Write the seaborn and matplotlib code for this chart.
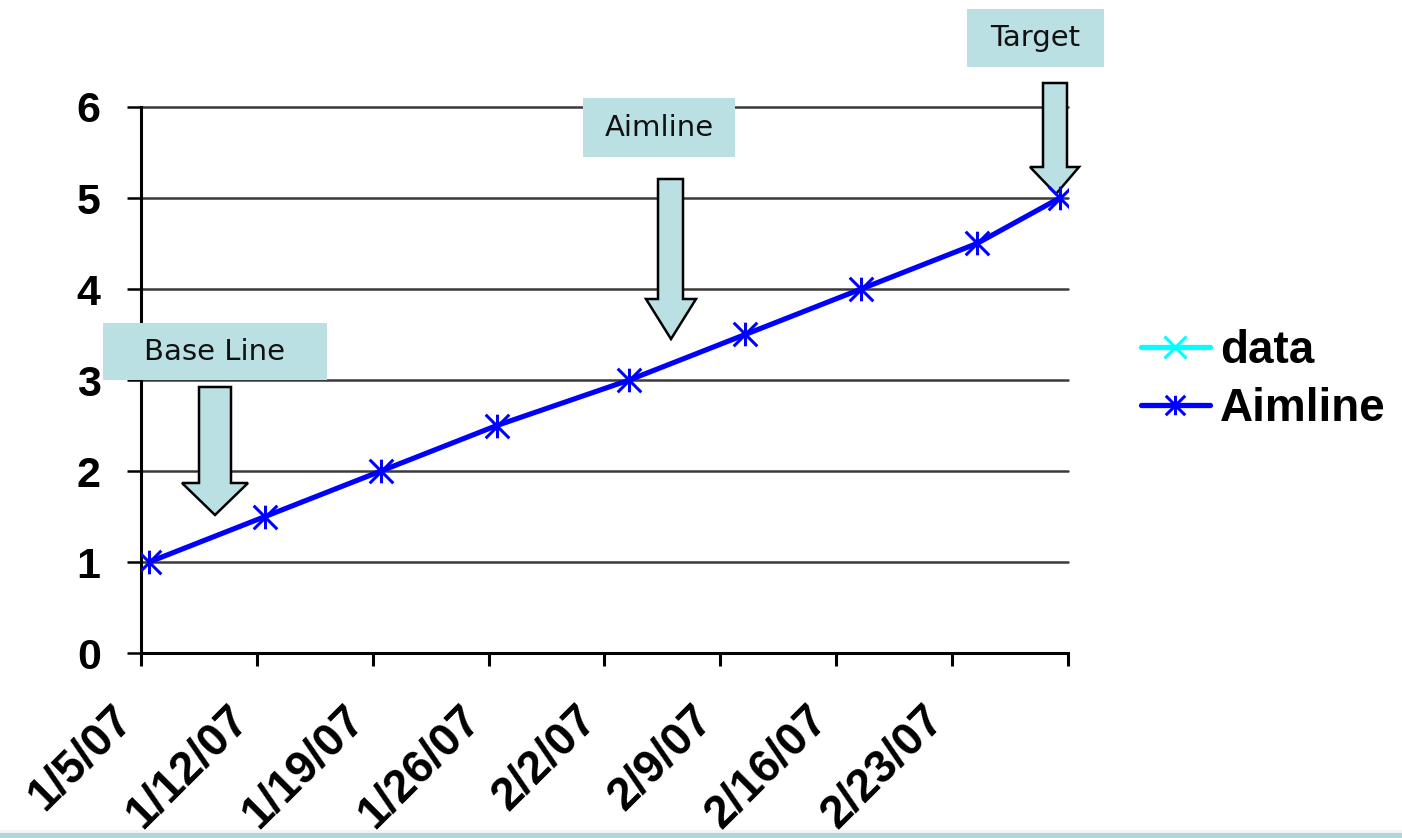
import numpy as np
import pandas as pd
import matplotlib
matplotlib.use("Agg")
import matplotlib.pyplot as plt
from matplotlib.path import Path
from matplotlib.patches import Rectangle, Polygon
from matplotlib.lines import Line2D
from matplotlib.transforms import ScaledTranslation
import seaborn as sns

# ---------------- data ----------------
aimline_dates = ["2007-01-05", "2007-01-12", "2007-01-19", "2007-01-26", "2007-02-03",
                 "2007-02-10", "2007-02-17", "2007-02-24", "2007-03-01"]
aimline_values = [1, 1.5, 2, 2.5, 3, 3.5, 4, 4.5, 5]
data_dates = []
data_values = []
tick_dates = ["2007-01-05", "2007-01-12", "2007-01-19", "2007-01-26", "2007-02-02",
              "2007-02-09", "2007-02-16", "2007-02-23", "2007-03-02"]
tick_labels = ["1/5/07", "1/12/07", "1/19/07", "1/26/07", "2/2/07",
               "2/9/07", "2/16/07", "2/23/07", ""]
y_ticks = [0, 1, 2, 3, 4, 5, 6]
series_names = ["data", "Aimline"]
callout_texts = ["Base Line", "Aimline", "Target"]

# ---------------- style ----------------
sns.set_theme(style="white")
plt.rcParams['font.family'] = ['Liberation Sans', 'DejaVu Sans']
plt.rcParams['text.color'] = 'black'
plt.rcParams['xtick.color'] = 'black'
plt.rcParams['ytick.color'] = 'black'

W, H = 1402, 838
fig = plt.figure(figsize=(W / 100, H / 100), dpi=100)
fig.patch.set_facecolor("white")
ax = fig.add_axes([141 / W, 1 - 653 / H, (1068 - 141) / W, (653 - 107) / H])
ax.set_facecolor("white")

star = Path([(0, -1), (0, 1), (-1, -1), (1, 1), (-1, 1), (1, -1)],
            [Path.MOVETO, Path.LINETO, Path.MOVETO, Path.LINETO, Path.MOVETO, Path.LINETO])

df = pd.DataFrame({"date": pd.to_datetime(aimline_dates) + pd.Timedelta(hours=12),
                   "value": aimline_values})
sns.lineplot(data=df, x="date", y="value", ax=ax, color="#0000FF", linewidth=3.7,
             marker=star, markersize=17, markeredgewidth=2.2, markeredgecolor="#0000FF",
             legend=False, zorder=4)
if data_dates:
    ax.plot(pd.to_datetime(data_dates), data_values, color="#00FFFF", marker="x")

ax.set_xlim(pd.Timestamp("2007-01-05"), pd.Timestamp("2007-03-02"))
ax.set_ylim(0, 6)
ax.set_xlabel("")
ax.set_ylabel("")

ax.set_yticks(y_ticks)
ax.set_yticklabels([str(v) for v in y_ticks], fontsize=31, fontweight="bold")
ax.set_xticks(pd.to_datetime(tick_dates))
ax.set_xticklabels(tick_labels, rotation=45, ha="right", va="center",
                   rotation_mode="anchor", fontsize=33, fontweight="bold")

ax.yaxis.grid(True, color="#3a3a3a", linewidth=1.8)
for gl in ax.get_ygridlines():
    gl.set_clip_on(False)
ax.xaxis.grid(False)
for s in ["top", "right"]:
    ax.spines[s].set_visible(False)
for s in ["left", "bottom"]:
    ax.spines[s].set_color("black")
    ax.spines[s].set_linewidth(2.2)
ax.tick_params(axis="y", left=True, direction="out", length=10, width=1.8,
               color="black", pad=19, labelcolor="black")
ax.tick_params(axis="x", bottom=True, direction="out", length=9, width=2.2,
               color="black", pad=34, labelcolor="black")
for lbl in ax.get_xticklabels():
    lbl.set_transform(lbl.get_transform() + ScaledTranslation(-15 / 100, 0, fig.dpi_scale_trans))

# ---------------- legend ----------------
handles = [Line2D([], [], color="#00FFFF", lw=3.8, marker="x", ms=16, mew=2.2),
           Line2D([], [], color="#0000FF", lw=3.8, marker=star, ms=14, mew=2.2)]
fig.legend(handles, series_names, loc="center left", bbox_to_anchor=(1141 / W, 1 - 380 / H),
           frameon=False, prop=dict(family="Liberation Sans", weight="bold", size=33),
           handlelength=1.5, handletextpad=0.22, labelspacing=0.3,
           borderpad=0, borderaxespad=0, labelcolor="black")

# ---------------- callouts ----------------
def fx(x):
    return x / W


def fy(y):
    return 1 - y / H


box_color = "#BBE0E3"
boxes = [(103, 323, 327, 380), (583, 98, 735, 157), (967, 9, 1104, 67)]
arrows = [(199, 231, 387, 483, 182, 248, 215, 515),
          (658, 683, 179, 299, 646, 696, 671, 339),
          (1043, 1067, 83, 167, 1030, 1079, 1056, 194)]
for text, (x0, y0, x1, y1) in zip(callout_texts, boxes):
    r = Rectangle((fx(x0), fy(y1)), (x1 - x0) / W, (y1 - y0) / H, transform=fig.transFigure,
                  facecolor=box_color, edgecolor="none", clip_on=False, zorder=3)
    ax.add_artist(r)
    ax.text(fx((x0 + x1) / 2), fy((y0 + y1) / 2), text, transform=fig.transFigure,
            ha="center", va="center", fontsize=21, family="DejaVu Sans",
            color="#111111", zorder=3.1, clip_on=False)
for sl, sr, yt, yh, hl, hr, tx, ty in arrows:
    pts = [(sl, yt), (sr, yt), (sr, yh), (hr, yh), (tx, ty), (hl, yh), (sl, yh)]
    p = Polygon([(fx(a), fy(b)) for a, b in pts], closed=True, transform=fig.transFigure,
                facecolor=box_color, edgecolor="black", linewidth=1.8, clip_on=False, zorder=3)
    ax.add_artist(p)

# bottom decorative strip
fig.add_artist(Rectangle((0, 0), 1, 8 / H, transform=fig.transFigure,
                         facecolor="#f2f4f4", edgecolor="none"))
fig.add_artist(Rectangle((0, 0), 1, 5 / H, transform=fig.transFigure,
                         facecolor="#a9d9dd", edgecolor="none"))

fig.savefig("out.png", dpi=100, facecolor="white")
